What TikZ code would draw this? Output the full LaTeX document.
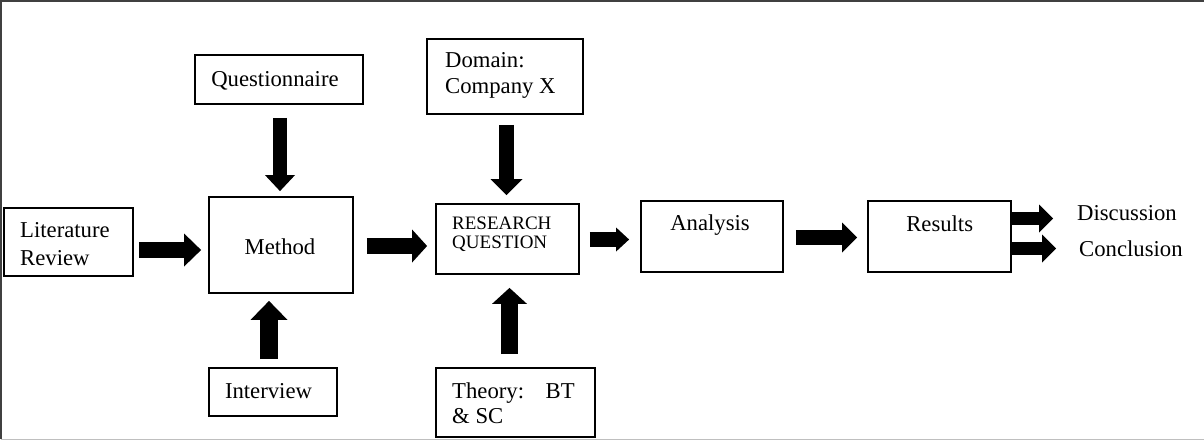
\documentclass[tikz,border=0pt]{standalone}
\usepackage{fontspec}
\setmainfont{Liberation Serif}
\usetikzlibrary{arrows.meta}

\tikzset{
  box/.style={draw, rectangle, line width=1.8pt, inner sep=0pt},
  txt/.style={inner sep=0pt, font=\fontsize{22.7}{27}\selectfont},
  small/.style={inner sep=0pt, font=\fontsize{19}{19.5}\selectfont},
  blk/.style n args={3}{line width=#1, -{Triangle[width=#2,length=#3,line width=0pt]}},
}

\begin{document}
\begin{tikzpicture}[x=1pt, y=-1pt]
\useasboundingbox (0,0) rectangle (1204,440);

% frame
\draw[black!75, line width=1.4pt] (1,439) -- (1,1) -- (1204,1);
\draw[black!25, line width=1pt] (1,439) -- (1204,439);

% boxes
\node[box, minimum width=129pt, minimum height=68pt] (lit) at (68.5,242) {};
\node[box, minimum width=168pt, minimum height=49pt] (quest) at (279,79.5) {};
\node[box, minimum width=144pt, minimum height=96pt] (method) at (281,245) {};
\node[box, minimum width=128pt, minimum height=48pt] (interview) at (273,392) {};
\node[box, minimum width=156pt, minimum height=75pt] (domain) at (505,76.5) {};
\node[box, minimum width=143pt, minimum height=70pt] (rq) at (507.5,239) {};
\node[box, minimum width=159pt, minimum height=69pt] (theory) at (515.5,402.5) {};
\node[box, minimum width=142pt, minimum height=71pt] (analysis) at (712,236.5) {};
\node[box, minimum width=143pt, minimum height=71pt] (results) at (939.5,236.5) {};

% texts
\node[txt, anchor=north west, align=left, font=\fontsize{22.7}{27.5}\selectfont] (litT) at (20,222.5) {Literature\\Review};
\node[txt, anchor=base] (questT) at (275,86.7) {Questionnaire};
\node[txt, anchor=base] (methodT) at (280,254.3) {Method};
\node[txt, anchor=base] (interviewT) at (268.5,398.3) {Interview};
\node[txt, anchor=north west, align=left, font=\fontsize{22.7}{26}\selectfont] (domainT) at (445,52.5) {Domain:\\Company X};
\node[small, anchor=north west, align=left] (rqT) at (452,216.4) {RESEARCH\\QUESTION};
\node[txt, anchor=north west, align=left, font=\fontsize{22.7}{25.5}\selectfont] (theoryT) at (452,382.5) {Theory:\hspace{0.95em}BT\\\& SC};
\node[txt, anchor=base] (analysisT) at (710,230) {Analysis};
\node[txt, anchor=base] (resultsT) at (939.7,231) {Results};
\node[txt, anchor=base west] (disc) at (1077,220) {Discussion};
\node[txt, anchor=base west] (concl) at (1079,256.7) {Conclusion};

% block arrows
\draw[blk={16pt}{33pt}{17pt}, shorten <=5pt, shorten >=7pt] (lit.east |- 0,250) -- (method.west |- 0,250);
\draw[blk={14pt}{30pt}{16pt}, shorten <=13pt, shorten >=5pt] (quest.south -| 280,0) -- (method.north -| 280,0);
\draw[blk={18pt}{37pt}{19pt}, shorten <=8pt, shorten >=7pt] (interview.north -| 269,0) -- (method.south -| 269,0);
\draw[blk={16pt}{33pt}{15pt}, shorten <=13pt, shorten >=8pt] (method.east |- 0,246) -- (rq.west |- 0,246);
\draw[blk={15pt}{32pt}{16pt}, shorten <=10pt, shorten >=8pt] (domain.south -| 506.5,0) -- (rq.north -| 506.5,0);
\draw[blk={17pt}{35pt}{16pt}, shorten <=13pt, shorten >=13pt] (theory.north -| 509.5,0) -- (rq.south -| 509.5,0);
\draw[blk={15pt}{24pt}{13pt}, shorten <=10pt, shorten >=11pt] (rq.east |- 0,239.5) -- (analysis.west |- 0,239.5);
\draw[blk={15pt}{30pt}{15pt}, shorten <=12pt, shorten >=10pt] (analysis.east |- 0,237.5) -- (results.west |- 0,237.5);
\draw[blk={13pt}{28pt}{14pt}, shorten >=24pt] (results.east |- 0,218.5) -- (disc.west |- 0,218.5);
\draw[blk={13pt}{28pt}{14pt}, shorten >=23pt] (results.east |- 0,248.5) -- (concl.west |- 0,248.5);
\end{tikzpicture}
\end{document}
